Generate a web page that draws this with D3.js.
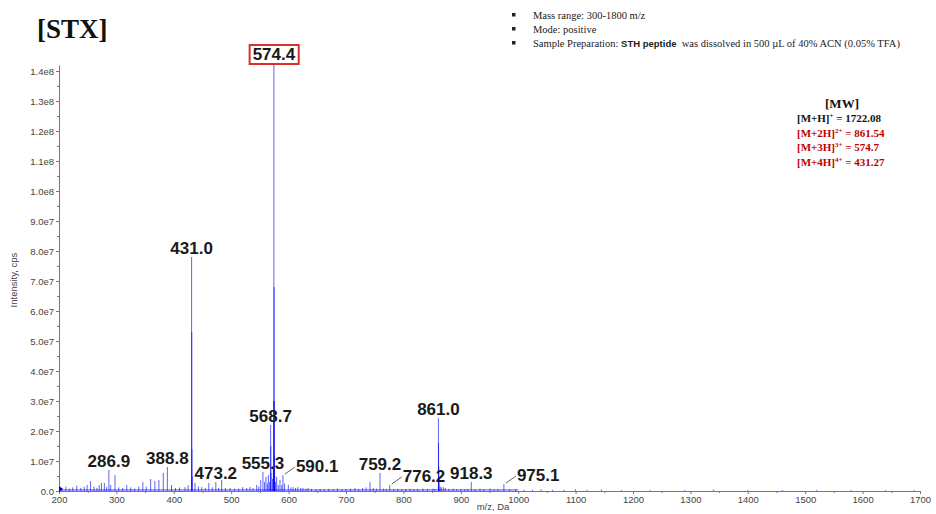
<!doctype html>
<html lang="en">
<head>
  <meta charset="UTF-8">
  <script src="https://cdn.jsdelivr.net/npm/d3@7"></script>
  <title>STX</title>
  <style>
    body{margin:0;background:#fff;}
    svg{display:block;font-family:"Liberation Sans",Arial,sans-serif;}
    .serif{font-family:"Liberation Serif","Times New Roman",serif;}
    .axis text{fill:#444;font-size:9.5px;}
    .axis path,.axis line{stroke:#777;}
  </style>
</head>
<body>
  <div class="chart"></div>
  <script>
    // peaks: m/z and intensity (x1e6 cps)
    const peakMz = [205,212,218,224,231,238,244,249,255,261,266,270,274,279,283,286.9,290,297.6,304,311,318,325,332,339,346,352,359.7,367,374,381.7,388.8,396,403,410,419.5,425,
      431.0,431.3,431.6,432,437,443,448.6,455,461,467,473.2,478,483.4,490,498,506,513,520,527,532.8,538,544.4,548,551.4,555.3,558,560.6,563,564.7,567,
      568.7,569.0,569.3,572,573.4,574.1,574.4,574.7,575.0,575.4,575.7,577,579.2,582,585,588,590.1,593,599.5,604,607.7,612,616,621,625,630,634,640,648,655,662,670,678,685,693,700,708,
      715.7,722,729,735,741.8,747.6,753,759.2,765,770,776.2,783,790,797,804,811.5,818,825,834,842,851.5,855,861.0,861.3,861.6,862,864,866,869.5,873,879,886.5,893,900,907,912,
      918.3,925,933.4,940,950.9,958,965,975.1,985,996,1010,1025,1040,1060,1080,1100,1120,1145,1180,1230,1290,1340,1400,1460,1520,1580,1640,1690];
    const peakInt = [1.0,1.5,0.8,1.2,1.8,1.0,1.4,2.0,3.3,1.5,1.0,2.0,2.7,2.7,1.3,7.0,2.0,5.3,1.2,1.0,2.0,1.2,0.8,1.5,3.0,1.5,4.0,3.3,3.7,6.0,8.0,2.0,1.0,1.2,1.3,2.0,
      78,53,14,5,2.7,1.5,1.3,1.0,2.7,1.2,3.0,1.0,3.7,1.0,1.0,0.8,0.8,1.3,1.0,1.3,1.0,2.0,1.5,3.7,6.3,3.0,4.7,2.5,5.3,3.0,
      22,15,6,4,8,30,142,68,30,12,5,3,4.7,2,3.7,2,5.3,2.5,2.0,1.2,1.3,1.0,1.3,1.0,1.0,0.8,1.0,0.7,0.6,0.7,0.6,0.7,0.6,0.8,0.6,0.7,0.8,
      1.0,0.7,1.0,1.2,3.0,1.0,0.8,6.0,0.8,0.7,2.0,0.6,0.7,0.6,0.7,0.8,0.6,0.7,0.8,0.6,0.8,0.7,24.3,16,8,4,1.5,1.2,1.3,1.0,0.7,0.8,0.6,0.7,0.6,0.7,
      3.0,0.6,0.8,0.6,0.8,0.6,0.5,2.3,0.5,0.6,0.4,0.4,0.6,0.4,0.4,0.6,0.4,0.5,0.3,0.3,0.3,0.5,0.3,0.3,0.3,0.3,0.3,0.3];

    const labelText = ["574.4","431.0","568.7","861.0","286.9","388.8","473.2","555.3","590.1","759.2","776.2","918.3","975.1"];
    const labelMz   = [574.4,431.0,568.7,861.0,286.9,388.8,473.2,555.3,590.1,759.2,776.2,918.3,975.1];
    const labelInt  = [142,78,22,24.3,7.0,8.0,3.0,6.3,5.3,6.0,2.0,3.0,2.3];
    const leaderLabels = ["590.1","776.2","975.1"];

    const xTicks = [200,300,400,500,600,700,800,900,1000,1100,1200,1300,1400,1500,1600,1700];
    const yTicks = [0,10,20,30,40,50,60,70,80,90,100,110,120,130,140];
    const yTickLabels = ["0.0","1.0e7","2.0e7","3.0e7","4.0e7","5.0e7","6.0e7","7.0e7","8.0e7","9.0e7","1.0e8","1.1e8","1.2e8","1.3e8","1.4e8"];

    const mwLines = [
      {ion:"[M+H]", charge:"+", mass:"1722.08", color:"#111"},
      {ion:"[M+2H]", charge:"2+", mass:"861.54", color:"#c00000"},
      {ion:"[M+3H]", charge:"3+", mass:"574.7", color:"#c00000"},
      {ion:"[M+4H]", charge:"4+", mass:"431.27", color:"#c00000"}
    ];

    const W = 936, H = 514;
    const svg = d3.select('.chart').append('svg').attr('width', W).attr('height', H);
    svg.append('rect').attr('width', W).attr('height', H).attr('fill', '#fff');

    const x = d3.scaleLinear().domain([200, 1700]).range([59, 920]);
    const y = d3.scaleLinear().domain([0, 142]).range([491, 65]);

    // axes
    svg.append('g').attr('class', 'axis').attr('transform', `translate(0,${y(0)})`)
      .call(d3.axisBottom(x).tickValues(xTicks).tickFormat(d => d).tickSize(3).tickSizeOuter(0).tickPadding(2));
    svg.append('g').attr('class', 'axis').attr('transform', `translate(0,${y(0)})`)
      .call(d3.axisBottom(x).tickValues(d3.range(250, 1700, 100)).tickSize(2).tickFormat('').tickSizeOuter(0))
      .select('.domain').remove();
    svg.append('g').attr('class', 'axis').attr('transform', `translate(${x(200)},0)`)
      .call(d3.axisLeft(y).tickValues(yTicks).tickFormat((d, i) => yTickLabels[i]).tickSize(3).tickSizeOuter(0).tickPadding(2));
    svg.append('g').attr('class', 'axis').attr('transform', `translate(${x(200)},0)`)
      .call(d3.axisLeft(y).tickValues(d3.range(5, 141, 10)).tickSize(2).tickFormat('').tickSizeOuter(0))
      .select('.domain').remove();

    svg.append('text').attr('x', 493).attr('y', 510).attr('text-anchor', 'middle')
      .attr('font-size', 9.5).attr('fill', '#444').text('m/z, Da');
    svg.append('text').attr('transform', 'translate(17,280) rotate(-90)').attr('text-anchor', 'middle')
      .attr('font-size', 9.5).attr('fill', '#444').text('Intensity, cps');

    // spectrum baseline + sticks
    svg.append('line').attr('x1', x(200)).attr('x2', x(1000)).attr('y1', y(0.35)).attr('y2', y(0.35))
      .attr('stroke', '#2020ff').attr('stroke-width', 1).attr('opacity', 0.8);
    svg.append('g').selectAll('line').data(peakMz).enter().append('line')
      .attr('x1', d => x(d)).attr('x2', d => x(d))
      .attr('y1', y(0)).attr('y2', (d, i) => y(peakInt[i]))
      .attr('stroke', '#0000ff').attr('stroke-width', 1).attr('stroke-opacity', 0.62);
    svg.append('path').attr('d', `M${x(200)},${y(0) - 5}l4,3l-4,3z`).attr('fill', '#0000cc');

    // peak labels
    const lg = svg.append('g').attr('font-size', 17).attr('font-weight', 'bold').attr('fill', '#1a1a1a');
    labelText.forEach((t, i) => {
      const px = x(labelMz[i]), top = y(labelInt[i]);
      if (leaderLabels.includes(t)) {
        svg.append('line').attr('x1', px + 2).attr('y1', top - 1).attr('x2', px + 12).attr('y2', top - 8)
          .attr('stroke', '#666').attr('stroke-width', 1);
        lg.append('text').attr('x', px + 13).attr('y', top - 3).text(t);
      } else {
        const tx = lg.append('text').attr('x', px).attr('y', top - (i === 0 ? 5 : 3))
          .attr('text-anchor', 'middle').text(t);
        if (i === 0) {
          const b = tx.node().getBBox();
          svg.append('rect').attr('x', b.x - 3).attr('y', b.y).attr('width', b.width + 6).attr('height', b.height + 0)
            .attr('fill', 'none').attr('stroke', '#d83030').attr('stroke-width', 2);
        }
      }
    });

    // title
    svg.append('text').attr('class', 'serif').attr('x', 37).attr('y', 38)
      .attr('font-size', 27).attr('font-weight', 'bold').attr('fill', '#111').text('[STX]');

    // notes
    const notes = svg.append('g').attr('class', 'serif').attr('font-size', 10.5).attr('fill', '#222');
    [19, 33, 47].forEach(yy => notes.append('rect').attr('x', 512).attr('y', yy - 6).attr('width', 3.5).attr('height', 3.5).attr('fill', '#222'));
    notes.append('text').attr('x', 533).attr('y', 19).text('Mass range: 300-1800 m/z');
    notes.append('text').attr('x', 533).attr('y', 33).text('Mode: positive');
    const sp = notes.append('text').attr('x', 533).attr('y', 47);
    sp.append('tspan').text('Sample Preparation: ');
    sp.append('tspan').attr('font-family', '"Liberation Sans",Arial,sans-serif').attr('font-weight', 'bold').attr('font-size', 9.5).text('STH peptide');
    sp.append('tspan').text('\u00a0 was dissolved in 500 \u00b5L of 40% ACN (0.05% TFA)');

    // molecular weight box
    const mw = svg.append('g').attr('class', 'serif').attr('font-weight', 'bold');
    mw.append('text').attr('x', 842).attr('y', 108).attr('text-anchor', 'middle').attr('font-size', 13).attr('fill', '#111').text('[MW]');
    mwLines.forEach((m, i) => {
      const t = mw.append('text').attr('x', 797).attr('y', 122 + i * 14.7).attr('font-size', 11).attr('fill', m.color);
      t.append('tspan').text(m.ion);
      t.append('tspan').attr('dy', -4).attr('font-size', 7).text(m.charge);
      t.append('tspan').attr('dy', 4).text(' = ' + m.mass);
    });
  </script>
</body>
</html>
